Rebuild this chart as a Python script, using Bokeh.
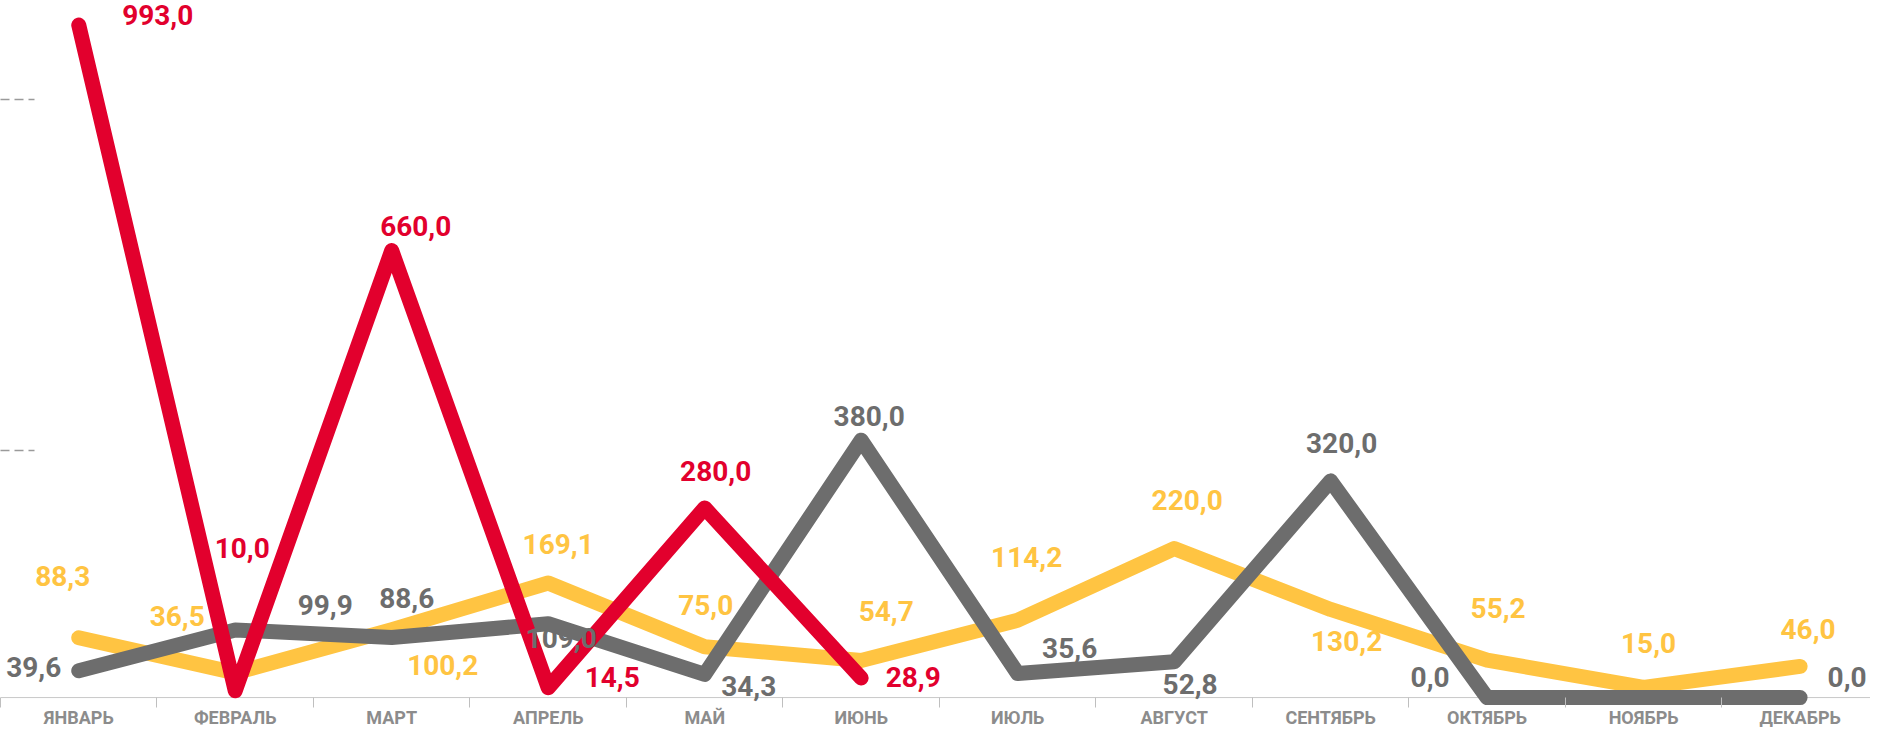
from bokeh.plotting import figure
from bokeh.models import Range1d, FixedTicker, LinearAxis, ColumnDataSource, Span
from bokeh.embed import file_html
from bokeh.resources import INLINE
from bokeh.core.properties import value

# ---- data ----
months = ["ЯНВАРЬ", "ФЕВРАЛЬ", "МАРТ", "АПРЕЛЬ", "МАЙ", "ИЮНЬ",
          "ИЮЛЬ", "АВГУСТ", "СЕНТЯБРЬ", "ОКТЯБРЬ", "НОЯБРЬ", "ДЕКАБРЬ"]
gray_vals = [39.6, 99.9, 88.6, 109.0, 34.3, 380.0, 35.6, 52.8, 320.0, 0.0, 0.0, 0.0]
yellow_vals = [88.3, 36.5, 100.2, 169.1, 75.0, 54.7, 114.2, 220.0, 130.2, 55.2, 15.0, 46.0]
red_vals = [993.0, 10.0, 660.0, 14.5, 280.0, 28.9]
gray_show = [True, True, True, True, True, True, True, True, True, True, False, True]
axis_marks = [365, 883]

# ---- label placement (screen px offsets from each point) ----
gray_dx = [-45, 90, 15, 13, 44, 8, 52, 16, 11, -57, 0, 47]
gray_dy = [-4, -25, -40, 14, 12, -24, -25, 22, -38, -21, 0, -21]
yellow_dx = [-16, -58, 51, 10, 1, 25, 9, 13, 16, 11, 5, 8]
yellow_dy = [-62, -57, 35, -39, -42, -50, -63, -49, 32, -52, -44, -37]
red_dx = [79, 7, 24, 64, 11, 52]
red_dy = [-10, -143, -25, -11, -37, -1]

GRAY = "#6D6D6D"
YELLOW = "#FFC442"
RED = "#E2002D"
FONT = "Roboto"


def fmt(v):
    return f"{v:.1f}".replace(".", ",")


p = figure(width=1870, height=730,
           x_range=Range1d(-0.5, 11.45), y_range=Range1d(-11.7, 1029.3),
           output_backend="svg", toolbar_location=None,
           x_axis_type=None, y_axis_type=None, min_border=0)
p.outline_line_color = None
p.background_fill_color = "white"
p.border_fill_color = "white"

# baseline
p.add_layout(Span(location=0, dimension="width", line_color="#c8c8c8",
                  line_width=1, level="underlay"))

# x axis
xaxis = LinearAxis(
    ticker=FixedTicker(ticks=list(range(12)), minor_ticks=[i - 0.5 for i in range(13)]),
    major_label_overrides={i: m for i, m in enumerate(months)},
)
xaxis.axis_line_color = None
xaxis.major_tick_line_color = None
xaxis.major_tick_in = 0
xaxis.major_tick_out = 0
xaxis.minor_tick_in = 8
xaxis.minor_tick_out = 2
xaxis.minor_tick_line_color = "#bfbfbf"
xaxis.minor_tick_line_width = 1
xaxis.major_label_standoff = -1
xaxis.major_label_text_font = FONT
xaxis.major_label_text_font_style = "bold"
xaxis.major_label_text_font_size = "18px"
xaxis.major_label_text_color = "#8c8c8c"
p.add_layout(xaxis, "below")

# y axis marks (short dashed ticks)
yaxis = LinearAxis(ticker=FixedTicker(ticks=axis_marks, minor_ticks=[]),
                   major_label_overrides={v: "" for v in axis_marks})
yaxis.axis_line_color = None
yaxis.major_tick_in = 34
yaxis.major_tick_out = 0
yaxis.major_tick_line_color = "#9a9a9a"
yaxis.major_tick_line_width = 1.5
yaxis.major_tick_line_dash = "9 5"
yaxis.minor_tick_line_color = None
yaxis.major_label_text_font_size = "0px"
yaxis.major_label_standoff = 0
p.add_layout(yaxis, "left")

xs = list(range(12))

# lines
for vals, color in ((yellow_vals, YELLOW), (gray_vals, GRAY), (red_vals, RED)):
    p.line(xs[:len(vals)], vals, line_color=color, line_width=15,
           line_join="round", line_cap="round")


# labels
def add_labels(vals, dx, dy, color, show=None):
    idx = [i for i in range(len(vals)) if show is None or show[i]]
    src = ColumnDataSource(dict(
        x=[xs[i] for i in idx],
        y=[vals[i] for i in idx],
        t=[fmt(vals[i]) for i in idx],
        dx=[dx[i] for i in idx],
        dy=[dy[i] for i in idx],
    ))
    p.text(x="x", y="y", text="t", x_offset="dx", y_offset="dy", source=src,
           text_align="center", text_baseline="middle",
           text_font=value(FONT), text_font_style="bold",
           text_font_size="28px", text_color=color)


add_labels(gray_vals, gray_dx, gray_dy, GRAY, gray_show)
add_labels(yellow_vals, yellow_dx, yellow_dy, YELLOW)
add_labels(red_vals, red_dx, red_dy, RED)

open("out.html", "w").write(file_html(p, INLINE))
